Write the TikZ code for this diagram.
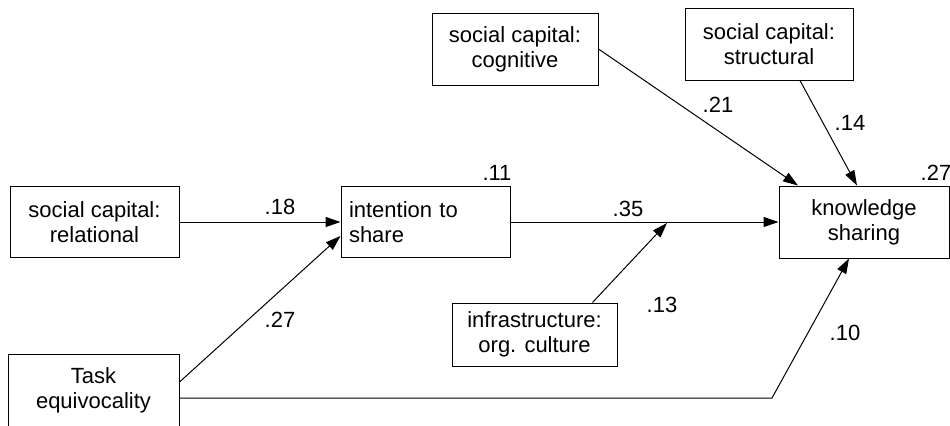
\documentclass[tikz,border=0pt]{standalone}
\usepackage{fontspec}
\setmainfont{Liberation Sans}
\usetikzlibrary{arrows.meta,positioning,calc}

\begin{document}
\begin{tikzpicture}[x=0.5pt, y=-0.5pt,
            every node/.style={font=\fontsize{11}{12.5}\selectfont},
            box/.style={draw, line width=0.5pt, inner sep=4pt, align=center,
                        minimum width=84.5pt, minimum height=35.5pt},
            link/.style={draw, line width=0.5pt, -{Triangle[length=7.5pt,width=5pt]}},
            coef/.style={inner sep=0pt}]
        \useasboundingbox (0,0) rectangle (950,425);
        % boxes
        \node[box] (rel) at (94.5,222) {social capital:\\relational};
        \node[box, minimum width=85.5pt, minimum height=36pt] (task) at (93.5,390) {Task\\equivocality};
        \node[box, align=left, text width=76.5pt] (int) at (425.5,222) {intention to\\share};
        \node[box, minimum width=85pt, minimum height=36pt] (know) at (864,222) {knowledge\\sharing};
        \node[box, minimum width=82.5pt, minimum height=31.5pt] (infra) at (534.5,334.5) {infrastructure:\\org. culture};
        \node[box, minimum width=83pt, minimum height=36pt] (cog) at (515,49) {social capital:\\cognitive};
        \node[box, minimum width=84pt, minimum height=36pt] (struc) at (769,44) {social capital:\\structural};
        \coordinate (bend) at (772,398);
        \coordinate (mod) at (667,223);
        % paths
        \draw[link] (rel) -- (int);
        \draw[link] ([yshift=4pt]task.east) -- ([yshift=-7pt]int.west);
        \draw[link] (int) -- (know);
        \draw[link] ([yshift=-4pt]task.east) -- (bend) -- ([xshift=-7.5pt]know.south);
        \draw[link] ([xshift=29pt]infra.north) -- (mod);
        \draw[link] (cog.east) -- ([xshift=-33pt]know.north);
        \draw[link] ([xshift=15.5pt]struc.south) -- ([xshift=-3.5pt]know.north);
        % coefficients
        \node[coef] (c18) at (280,207) {.18};
        \node[coef] (c27a) at (280,320) {.27};
        \node[coef] (c35) at (628,209) {.35};
        \node[coef] (c13) at (662,305) {.13};
        \node[coef] (c10) at (845,333) {.10};
        \node[coef] (c21) at (718,105) {.21};
        \node[coef] (c14) at (850,123) {.14};
        \node[coef] (r11) at (497,173) {.11};
        \node[coef] (r27) at (936,173) {.27};
\end{tikzpicture}
\end{document}
